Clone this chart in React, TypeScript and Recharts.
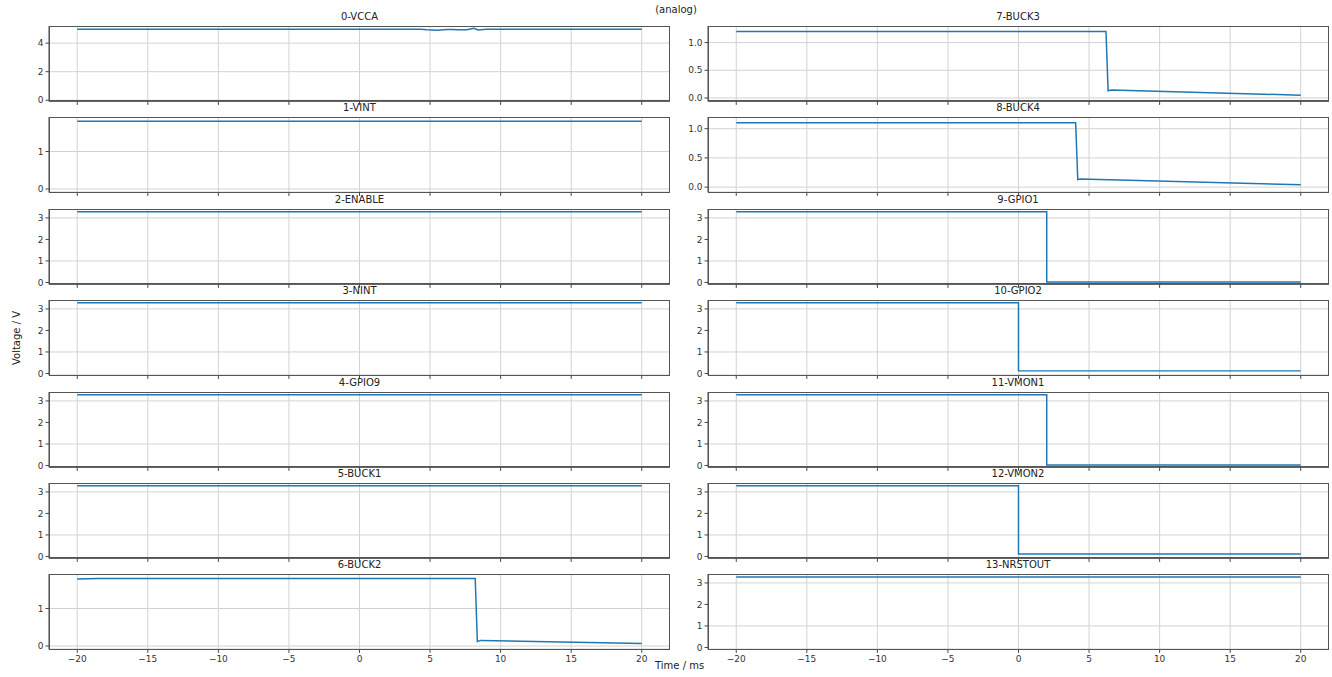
import React from 'react';
import { LineChart, Line, XAxis, YAxis, CartesianGrid } from 'recharts';

// time axis (ms)
const timeTicks = [-20, -15, -10, -5, 0, 5, 10, 15, 20];

// [time ms, voltage V]
const vcca = [[-20, 4.97], [4.3, 4.97], [4.8, 4.93], [5.5, 4.91], [6.2, 4.96], [6.6, 4.96], [7.0, 4.93], [7.6, 4.94], [8.1, 5.04], [8.4, 4.92], [9.0, 4.97], [20, 4.97]];
const vint = [[-20, 1.81], [20, 1.81]];
const enable = [[-20, 3.29], [20, 3.29]];
const nint = [[-20, 3.29], [20, 3.29]];
const gpio9 = [[-20, 3.29], [20, 3.29]];
const buck1 = [[-20, 3.29], [20, 3.29]];
const buck2 = [[-20, 1.79], [-18.5, 1.8], [8.2, 1.8], [8.35, 0.12], [8.6, 0.15], [20, 0.07]];
const buck3 = [[-20, 1.2], [6.2, 1.2], [6.35, 0.13], [6.6, 0.145], [20, 0.05]];
const buck4 = [[-20, 1.1], [4.05, 1.1], [4.2, 0.13], [4.4, 0.14], [20, 0.04]];
const gpio1 = [[-20, 3.29], [2.0, 3.29], [2.0, 0.02], [20, 0.02]];
const gpio2 = [[-20, 3.29], [0, 3.29], [0, 0.12], [20, 0.12]];
const vmon1 = [[-20, 3.29], [2.0, 3.29], [2.0, 0.02], [20, 0.02]];
const vmon2 = [[-20, 3.29], [0, 3.29], [0, 0.11], [20, 0.11]];
const nrstout = [[-20, 3.28], [20, 3.28]];

// y scales
const ticks5 = [0, 2, 4];
const ticks18 = [0, 1];
const ticks33 = [0, 1, 2, 3];
const ticks12 = [0, 0.5, 1];

const channels = [
  { title: '0-VCCA', pts: vcca, domain: [-0.08, 5.2], ticks: ticks5, dec: 0 },
  { title: '1-VINT', pts: vint, domain: [-0.09, 1.92], ticks: ticks18, dec: 0 },
  { title: '2-ENABLE', pts: enable, domain: [-0.09, 3.415], ticks: ticks33, dec: 0 },
  { title: '3-NINT', pts: nint, domain: [-0.09, 3.415], ticks: ticks33, dec: 0 },
  { title: '4-GPIO9', pts: gpio9, domain: [-0.09, 3.415], ticks: ticks33, dec: 0 },
  { title: '5-BUCK1', pts: buck1, domain: [-0.09, 3.415], ticks: ticks33, dec: 0 },
  { title: '6-BUCK2', pts: buck2, domain: [-0.09, 1.92], ticks: ticks18, dec: 0 },
  { title: '7-BUCK3', pts: buck3, domain: [-0.062, 1.3], ticks: ticks12, dec: 1 },
  { title: '8-BUCK4', pts: buck4, domain: [-0.09, 1.2], ticks: ticks12, dec: 1 },
  { title: '9-GPIO1', pts: gpio1, domain: [-0.09, 3.415], ticks: ticks33, dec: 0 },
  { title: '10-GPIO2', pts: gpio2, domain: [-0.09, 3.415], ticks: ticks33, dec: 0 },
  { title: '11-VMON1', pts: vmon1, domain: [-0.09, 3.415], ticks: ticks33, dec: 0 },
  { title: '12-VMON2', pts: vmon2, domain: [-0.09, 3.415], ticks: ticks33, dec: 0 },
  { title: '13-NRSTOUT', pts: nrstout, domain: [-0.09, 3.415], ticks: ticks33, dec: 0 },
];

const FONT = '"DejaVu Sans", sans-serif';
const COL_LEFT = [49, 707.5];
const PLOT_W = 621;
const PLOT_H = 75.4;
const ROW_TOP = 26;
const ROW_STEP = 91.4;
const Y_W = 34;
const X_H = 20;

const fmt = (v: number, dec: number) => v.toFixed(dec).replace('-', '\u2212');

function Panel({ ch, left, top, showX }: any) {
  const data = ch.pts.map(([t, v]: number[]) => ({ t, v }));
  const tickStyle = { fill: '#333', fontSize: 9, fontFamily: FONT };
  return (
    <>
      <div
        style={{
          position: 'absolute', left, top: top - 15, width: PLOT_W, textAlign: 'center',
          fontSize: 10, lineHeight: '12px', fontFamily: FONT, color: '#222',
        }}
      >
        {ch.title}
      </div>
      <div style={{ position: 'absolute', left: left - Y_W, top }}>
        <LineChart width={PLOT_W + Y_W} height={PLOT_H + X_H} data={data} margin={{ top: 0, right: 0, left: 0, bottom: 0 }}>
          <CartesianGrid stroke="#d3d3d3" strokeWidth={1} />
          <XAxis
            dataKey="t"
            type="number"
            domain={[-22, 22]}
            ticks={timeTicks}
            height={X_H}
            tickSize={3.5}
            tickMargin={3}
            tick={tickStyle}
            tickLine={{ stroke: '#444' }}
            axisLine={{ stroke: '#555' }}
            tickFormatter={(v: number) => (showX ? fmt(v, 0) : '')}
            allowDataOverflow
          />
          <YAxis
            type="number"
            domain={ch.domain}
            ticks={ch.ticks}
            width={Y_W}
            tickSize={3.5}
            tickMargin={2}
            tick={tickStyle}
            tickLine={{ stroke: '#444' }}
            axisLine={{ stroke: '#555' }}
            tickFormatter={(v: number) => fmt(v, ch.dec)}
            allowDataOverflow
          />
          <Line type="linear" dataKey="v" stroke="#1f77b4" strokeWidth={1.5} dot={false} isAnimationActive={false} />
        </LineChart>
      </div>
      <div
        style={{
          position: 'absolute', left, top, width: PLOT_W, height: PLOT_H,
          border: '1px solid #555', boxSizing: 'border-box', pointerEvents: 'none',
        }}
      />
    </>
  );
}

export default function App() {
  return (
    <div style={{ position: 'absolute', left: 0, top: 0, width: 1332, height: 677, background: '#fff', fontFamily: FONT }}>
      <div style={{ position: 'absolute', left: 0, top: 4, width: 1352, textAlign: 'center', fontSize: 10, lineHeight: '12px', color: '#222' }}>
        (analog)
      </div>
      {channels.map((ch, i) => {
        const col = i < 7 ? 0 : 1;
        const row = i % 7;
        return (
          <Panel key={ch.title} ch={ch} left={COL_LEFT[col]} top={ROW_TOP + row * ROW_STEP} showX={row === 6} />
        );
      })}
      <div
        style={{
          position: 'absolute', left: 16, top: 338, transform: 'translate(-50%, -50%) rotate(-90deg)',
          fontSize: 10, whiteSpace: 'nowrap', color: '#222',
        }}
      >
        Voltage / V
      </div>
      <div style={{ position: 'absolute', left: 655, top: 660, fontSize: 10, lineHeight: '12px', whiteSpace: 'nowrap', color: '#222' }}>
        Time / ms
      </div>
    </div>
  );
}
